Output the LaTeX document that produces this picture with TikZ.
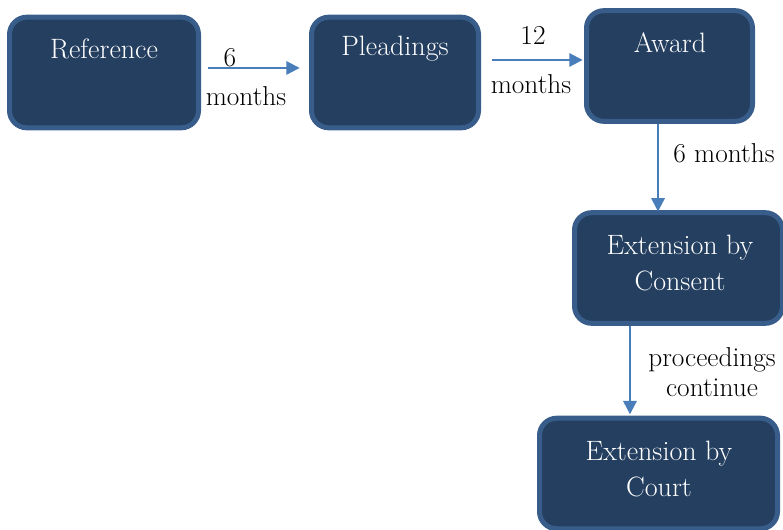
\documentclass[tikz,border=0pt]{standalone}
\usetikzlibrary{arrows.meta}

\definecolor{boxfill}{HTML}{243F60}
\definecolor{boxline}{HTML}{385D8A}
\definecolor{flowblue}{HTML}{4A7EBB}

\tikzset{
  stage/.style={draw=boxline, fill=boxfill, line width=3.75pt, rounded corners=13pt,
    minimum width=#1, minimum height=83pt, inner sep=0pt},
  stagetext/.style={text=white, font=\fontsize{21}{27}\selectfont, align=center, inner sep=0pt},
  lbl/.style={font=\fontsize{20.5}{23}\selectfont, align=center, inner sep=0pt},
  flow/.style={draw=flowblue, line width=1.5pt, -{Triangle[length=10pt,width=10pt]}}
}

\begin{document}
\begin{tikzpicture}[x=0.75pt, y=-0.75pt]
\useasboundingbox (0,0) rectangle (783,530);

% Kaesten
\node[stage=141.75pt] (ref) at (104,72.5) {}; % Reference
\node[stagetext] (reft) at (104,49) {Reference};

\node[stage=125.25pt] (plead) at (395,72.5) {}; % Pleadings
\node[stagetext] (pleadt) at (395,49) {Pleadings};

\node[stage=124.5pt] (award) at (669.5,66) {}; % Award
\node[stagetext] (awardt) at (670,43) {Award};

\node[stage=156pt] (consent) at (678.5,268) {}; % Extension by Consent
\node[stagetext] (consentt) at (680,263) {Extension by\\Consent};

\node[stage=178.5pt] (court) at (658.5,473.5) {}; % Extension by Court
\node[stagetext] (courtt) at (659,469) {Extension by\\Court};

% Pfeile
\draw[flow, shorten <=5pt, shorten >=7pt] ([yshift=3.4pt]ref.east) -- ([yshift=3.4pt]ref.east -| plead.west); % Reference -> Pleadings
\draw[flow, shorten <=8.6pt, shorten >=1pt] ([yshift=9.4pt]plead.east) -- ([yshift=9.4pt]plead.east -| award.west); % Pleadings -> Award
\draw[flow, shorten >=-1pt] ([xshift=-8.6pt]award.south) -- ([xshift=-8.6pt]award.south |- consent.north); % Award -> Consent
\draw[flow, shorten >=1pt] ([xshift=-36.4pt]consent.south) -- ([xshift=-36.4pt]consent.south |- court.north); % Consent -> Court

% Beschriftungen
\node[lbl] (l1a) at (230,58) {6};
\node[lbl] (l1b) at (246,96) {months};
\node[lbl] (l2a) at (533,35) {12};
\node[lbl] (l2b) at (531,84) {months};
\node[lbl] (l3) at (724,153) {6 months};
\node[lbl] (l4) at (712,372) {proceedings\\continue};

\end{tikzpicture}
\end{document}
